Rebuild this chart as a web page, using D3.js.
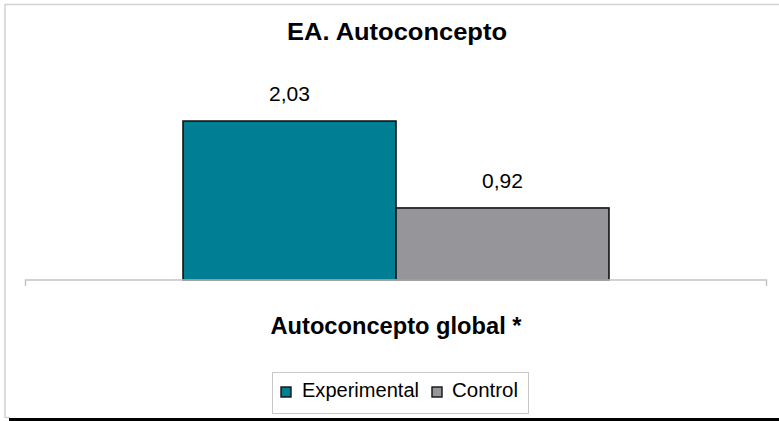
<!DOCTYPE html>
<html>
<head>
<meta charset="utf-8">
<script src="https://cdn.jsdelivr.net/npm/d3@7"></script>
<style>
html,body{margin:0;padding:0;background:#fff;}
svg{display:block;}
text{font-family:"Liberation Sans",Arial,sans-serif;}
</style>
</head>
<body>
<svg id="chart" width="779" height="421"></svg>
<script>
const title = "EA. Autoconcepto";
const categories = ["Autoconcepto global *"];
const seriesNames = ["Experimental", "Control"];
const experimentalValues = [2.03];
const controlValues = [0.92];
const seriesColors = ["#007e93", "#96969a"];

const seriesValues = [experimentalValues, controlValues];
const fmt = v => d3.format(".2f")(v).replace(".", ",");

const svg = d3.select("#chart");

// frame
svg.append("line").attr("x1",5).attr("x2",779).attr("y1",4.5).attr("y2",4.5)
  .attr("stroke","#d2d2d2").attr("stroke-width",1.5);
svg.append("line").attr("x1",5).attr("x2",5).attr("y1",4).attr("y2",418)
  .attr("stroke","#d2d2d2").attr("stroke-width",1.5);
svg.append("line").attr("x1",5).attr("x2",10).attr("y1",417.5).attr("y2",417.5)
  .attr("stroke","#d2d2d2").attr("stroke-width",1.5);
svg.append("rect").attr("x",9).attr("y",418).attr("width",770).attr("height",3).attr("fill","#000");

// scales
const x0 = d3.scaleBand().domain(categories).range([25, 767]).paddingInner(0).paddingOuter(0.371);
const x1 = d3.scaleBand().domain(seriesNames).range([0, x0.bandwidth()]).padding(0);
const y = d3.scaleLinear().domain([0, 2.5]).range([280, 84.25]);

// title
svg.append("text").attr("x",397).attr("y",40).attr("text-anchor","middle")
  .attr("font-size",23).attr("font-weight","bold").attr("fill","#000")
  .attr("textLength",220).attr("lengthAdjust","spacingAndGlyphs")
  .text(title);

// bars
const data = [];
categories.forEach((c, ci) => {
  seriesNames.forEach((s, si) => {
    data.push({cat: c, series: s, value: seriesValues[si][ci], color: seriesColors[si]});
  });
});

const g = svg.append("g");
g.selectAll("rect.bar").data(data).enter().append("rect")
  .attr("class","bar")
  .attr("x", d => x0(d.cat) + x1(d.series))
  .attr("y", d => y(d.value))
  .attr("width", x1.bandwidth())
  .attr("height", d => y(0) - y(d.value))
  .attr("fill", d => d.color)
  .attr("stroke","#111").attr("stroke-width",1.6);

g.selectAll("text.val").data(data).enter().append("text")
  .attr("class","val")
  .attr("x", d => x0(d.cat) + x1(d.series) + x1.bandwidth()/2)
  .attr("y", d => y(d.value) - 20)
  .attr("text-anchor","middle").attr("font-size",21).attr("fill","#000")
  .text(d => fmt(d.value));

// axis
const axis = d3.axisBottom(x0).tickSize(0).tickFormat("");
const ag = svg.append("g").attr("transform","translate(0,280)").call(axis);
ag.select(".domain").attr("stroke","#c4c4c4").attr("stroke-width",1.5)
  .attr("d","M25.5,6V0H766.5V6");

// category label
svg.selectAll("text.cat").data(categories).enter().append("text")
  .attr("class","cat")
  .attr("x", d => x0(d) + x0.bandwidth()/2)
  .attr("y", 334)
  .attr("text-anchor","middle").attr("font-size",23).attr("font-weight","bold").attr("fill","#000")
  .attr("textLength",251).attr("lengthAdjust","spacingAndGlyphs")
  .text(d => d);

// legend
const lg = svg.append("g");
lg.append("rect").attr("x",272.5).attr("y",372.5).attr("width",256).attr("height",41)
  .attr("fill","#fff").attr("stroke","#c8c8c8").attr("stroke-width",1);
const legendItems = [
  {name: seriesNames[0], color: seriesColors[0], sx: 281, tx: 302, w: 117},
  {name: seriesNames[1], color: seriesColors[1], sx: 432, tx: 452, w: 66}
];
legendItems.forEach(it => {
  lg.append("rect").attr("x",it.sx).attr("y",387).attr("width",10).attr("height",10)
    .attr("fill",it.color).attr("stroke","#111").attr("stroke-width",1.4);
  lg.append("text").attr("x",it.tx).attr("y",397).attr("font-size",20).attr("fill","#000")
    .attr("textLength",it.w).attr("lengthAdjust","spacingAndGlyphs")
    .text(it.name);
});
</script>
</body>
</html>
